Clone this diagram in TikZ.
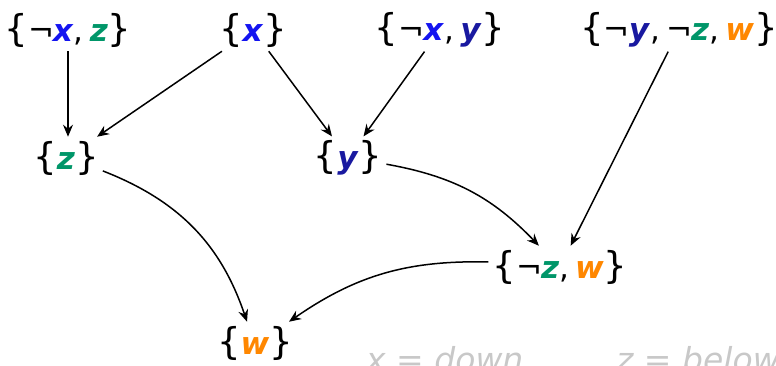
\documentclass[tikz,border=0pt]{standalone}
\usepackage{fontspec}
\setmainfont{DejaVu Sans}
\usetikzlibrary{arrows.meta}
\definecolor{cx}{RGB}{20,20,240}
\definecolor{cy}{RGB}{25,25,160}
\definecolor{cz}{RGB}{0,150,105}
\definecolor{cw}{RGB}{255,135,0}
\definecolor{lab}{RGB}{200,200,200}
\newcommand{\lb}{{\fontsize{37}{37}\selectfont\{}}
\newcommand{\rb}{{\fontsize{37}{37}\selectfont\}}}
\newcommand{\vx}{\textcolor{cx}{\textbf{\textit{x}}}}
\newcommand{\vy}{\textcolor{cy}{\textbf{\textit{y}}}}
\newcommand{\vz}{\textcolor{cz}{\textbf{\textit{z}}}}
\newcommand{\vw}{\textcolor{cw}{\textbf{\textit{w}}}}
\newcommand{\nt}{¬\kern-1pt}
\newcommand{\cm}{,\hspace{0.2em}}
\tikzset{
  setnode/.style={font=\fontsize{31}{32}\selectfont, inner sep=4pt},
  arr/.style={-{Stealth[length=12pt,width=10pt,inset=4pt]}, line width=1.5pt},
  lbl/.style={font=\fontsize{33}{33}\selectfont\itshape, text=lab, anchor=base west, inner sep=0pt}
}
\begin{document}
\begin{tikzpicture}[x=1pt,y=-1pt]
\useasboundingbox (0,0) rectangle (776,366);
\node[setnode] (nxz) at (68,30) {\lb\nt\vx\cm\vz\rb};
\node[setnode] (x) at (253,30) {\lb\vx\rb};
\node[setnode] (nxy) at (440,30) {\lb\nt\vx\cm\vy\rb};
\node[setnode] (nyzw) at (679,30) {\lb\nt\vy\cm\nt\vz\cm\vw\rb};
\node[setnode] (z) at (66,158) {\lb\vz\rb};
\node[setnode] (y) at (348,158) {\lb\vy\rb};
\node[setnode] (nzw) at (560,267) {\lb\nt\vz\cm\vw\rb};
\node[setnode] (w) at (255,343) {\lb\vw\rb};
\node[lbl] (l1) at (366,371) {x = down};
\node[lbl] (l2) at (616,371) {z = below};
\draw[arr] (nxz.south) -- (nxz.south |- z.north);
\draw[arr] (x) -- (z);
\draw[arr] (x) -- (y);
\draw[arr] (nxy) -- (y);
\draw[arr] (nyzw) -- (nzw);
\draw[arr] (z) to[bend left=25] (w);
\draw[arr] (y) to[bend left=18] (nzw);
\draw[arr] (nzw) to[bend right=18] (w);
\end{tikzpicture}
\end{document}
